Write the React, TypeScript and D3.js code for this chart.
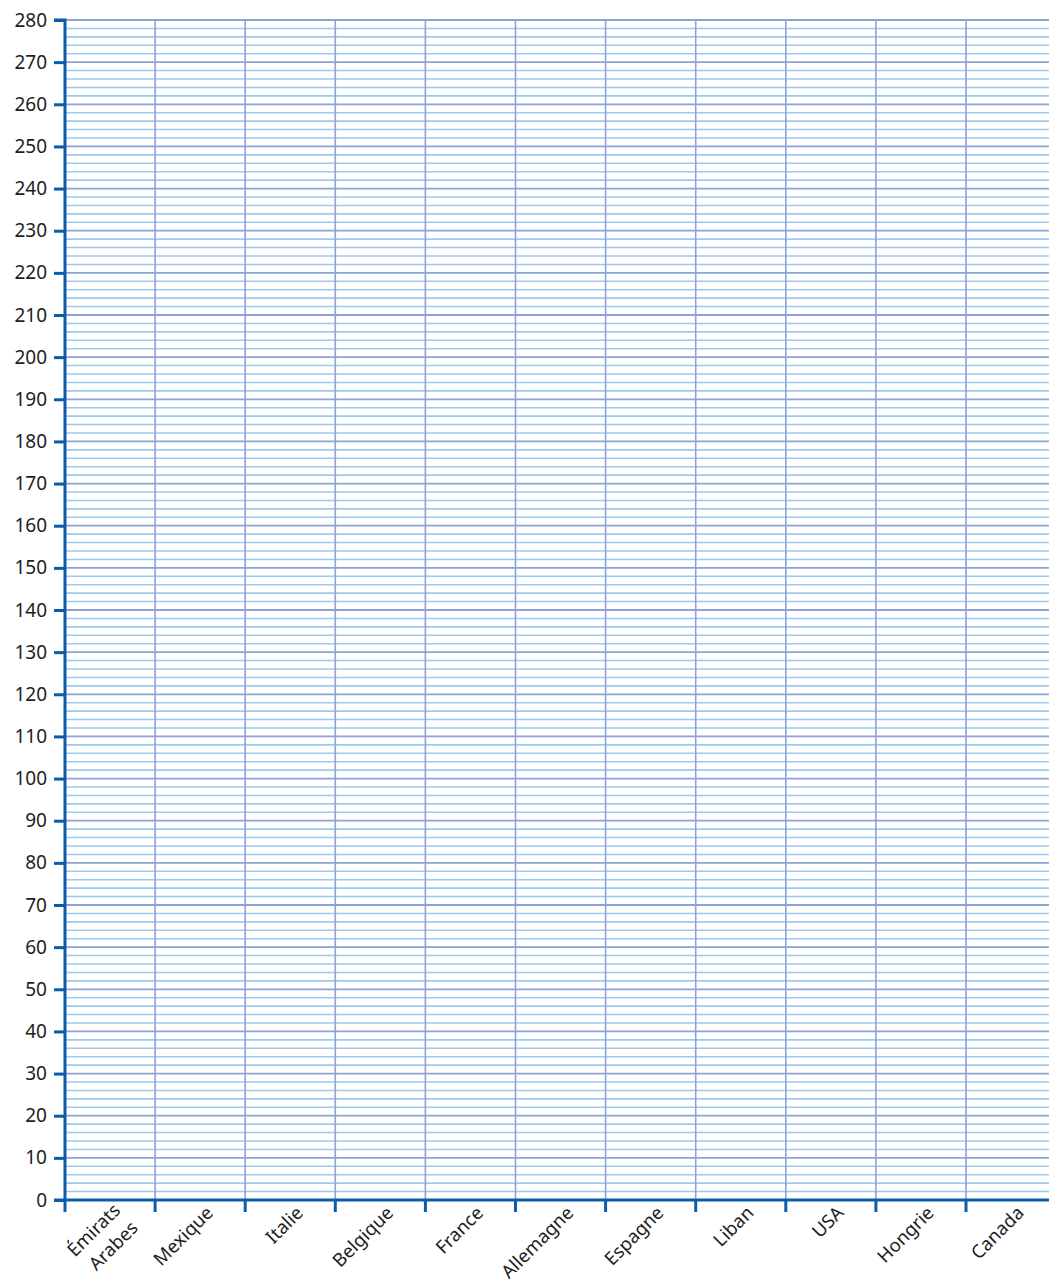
import React, { useRef, useEffect } from 'react' ;
import * as d3 from 'd3' ;

// categories along the x axis (multi-line labels split on \n)
const countries = ['Émirats\nArabes', 'Mexique', 'Italie', 'Belgique', 'France', 'Allemagne', 'Espagne', 'Liban', 'USA', 'Hongrie', 'Canada'] ;
// y axis range and tick steps
const yDomain = [0, 280] ;
const majorStep = 10 ;
const minorStep = 2 ;

const FONT = '"Noto Sans", "Open Sans", sans-serif' ;

const App = () => {

    const ref = useRef<SVGSVGElement>(null) ;

    useEffect( () => {

        const svg = d3.select(ref.current) ;
        svg.selectAll('*').remove() ;

        const W = 1049, H = 1286 ;
        const m = { left : 65, top : 20, bottom : 86 } ;
        const step = 90.1 ;

        const xScale = d3.scaleBand()
            .domain(countries)
            .range([m.left, m.left + step * countries.length])
            .paddingInner(0).paddingOuter(0) ;
        const yScale = d3.scaleLinear().domain(yDomain).range([H - m.bottom, m.top]) ;

        const g = svg.append('g') ;
        const y0 = yScale(0), yTop = yScale(yDomain[1]) ;

        // minor horizontal grid
        g.append('g').selectAll('line')
            .data(d3.range(yDomain[0], yDomain[1] + 1, minorStep).filter(v => v % majorStep !== 0))
            .join('line')
            .attr('x1', m.left).attr('x2', W)
            .attr('y1', d => yScale(d)).attr('y2', d => yScale(d))
            .attr('stroke', '#9dc9ef')
            .attr('stroke-width', 1.6) ;

        // major horizontal grid
        g.append('g').selectAll('line')
            .data(d3.range(yDomain[0] + majorStep, yDomain[1] + 1, majorStep))
            .join('line')
            .attr('x1', m.left).attr('x2', W)
            .attr('y1', d => yScale(d)).attr('y2', d => yScale(d))
            .attr('stroke', '#8ea2da')
            .attr('stroke-width', 1.8) ;

        // vertical grid at band boundaries
        g.append('g').selectAll('line')
            .data(countries.slice(1))
            .join('line')
            .attr('x1', d => xScale(d)).attr('x2', d => xScale(d))
            .attr('y1', yTop).attr('y2', y0)
            .attr('stroke', '#8ea2da')
            .attr('stroke-width', 1.6) ;

        const axisColor = '#0b5cab' ;

        // y axis
        const yAxis = g.append('g')
            .attr('transform', `translate(${m.left}, 0)`)
            .call(d3.axisLeft(yScale).tickValues(d3.range(yDomain[0], yDomain[1] + 1, majorStep)).tickSize(11).tickPadding(7)) ;
        yAxis.select('.domain').attr('stroke', axisColor).attr('stroke-width', 3).attr('d', `M-11,${yTop}H0V${y0}`) ;
        yAxis.selectAll('.tick line').attr('stroke', axisColor).attr('stroke-width', 3) ;
        yAxis.selectAll('.tick text')
            .style('font-family', FONT)
            .style('font-size', '19px')
            .attr('fill', '#1e1e1e') ;

        // x axis
        g.append('line')
            .attr('x1', m.left - 11).attr('x2', W)
            .attr('y1', y0).attr('y2', y0)
            .attr('stroke', axisColor).attr('stroke-width', 3) ;
        g.append('g').selectAll('line')
            .data(countries)
            .join('line')
            .attr('x1', d => xScale(d)).attr('x2', d => xScale(d))
            .attr('y1', y0).attr('y2', y0 + 12)
            .attr('stroke', axisColor).attr('stroke-width', 3) ;

        // rotated category labels
        const labels = g.append('g').selectAll('text')
            .data(countries)
            .join('text')
            .attr('transform', d => `translate(${xScale(d) + xScale.bandwidth() / 2 + 14}, ${y0 + 14}) rotate(-45)`)
            .attr('text-anchor', 'end')
            .style('font-family', FONT)
            .style('font-size', '18.5px')
            .attr('fill', '#1e1e1e') ;

        labels.each(function (d) {
            const parts = d.split('\n') ;
            d3.select(this).selectAll('tspan')
                .data(parts)
                .join('tspan')
                .attr('x', 0)
                .attr('dy', (p, i) => i === 0 ? (parts.length > 1 ? '-0.2em' : '0') : '1.35em')
                .text(p => p) ;
        }) ;

    }, [])

    return (
        <svg ref={ref} width={1049} height={1286} style={{ position : 'absolute', left : 0, top : 0 }}></svg>
    )
}

export default App ;
